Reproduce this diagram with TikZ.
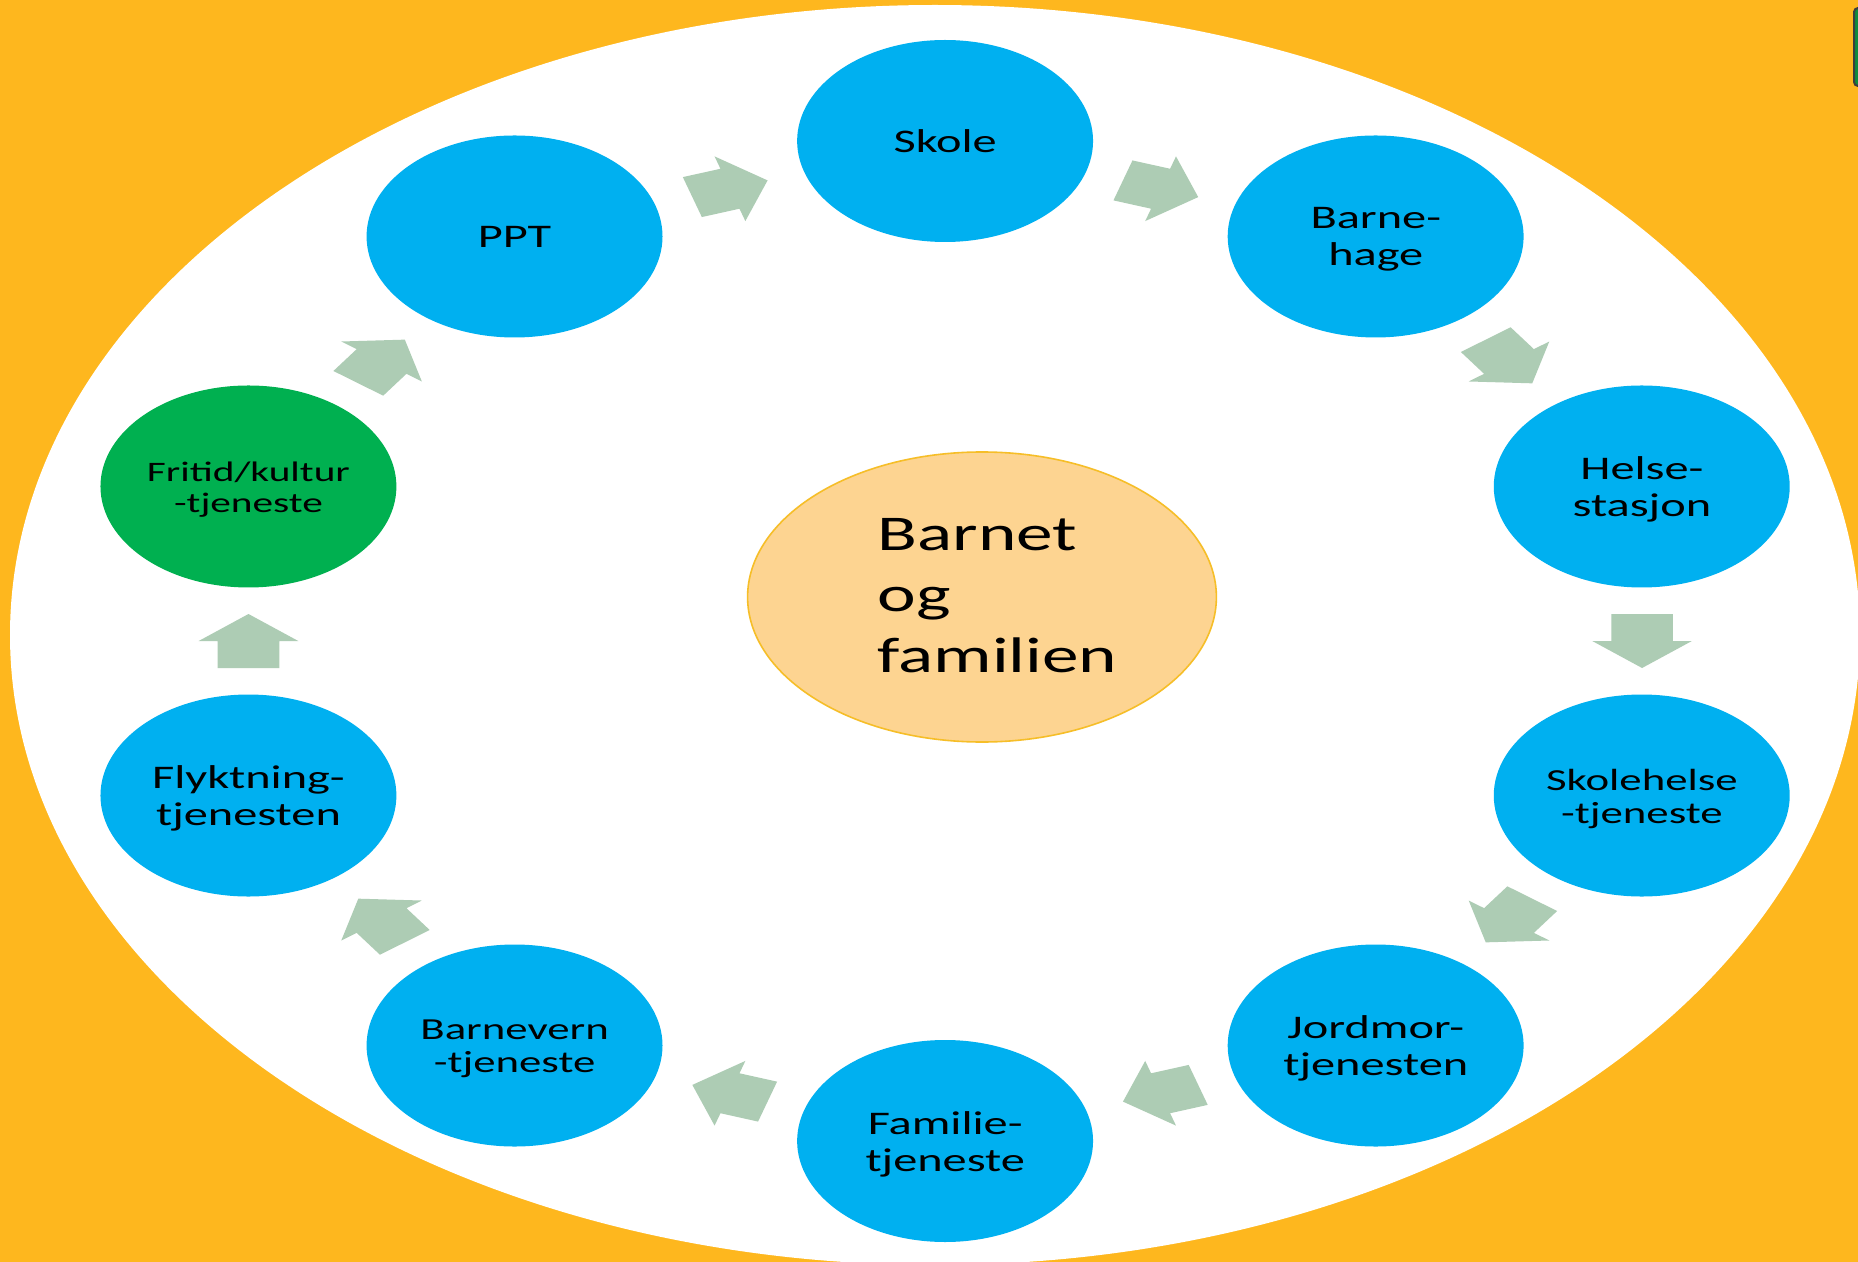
\documentclass[tikz,border=0pt]{standalone}
\usepackage{fontspec}
\setmainfont{Carlito}
\usetikzlibrary{calc,shapes.geometric}
\definecolor{bgorange}{RGB}{254,183,30}
\definecolor{bubbleblue}{RGB}{0,176,240}
\definecolor{bubblegreen}{RGB}{0,176,80}
\definecolor{arrowgreen}{RGB}{173,204,180}
\definecolor{corefill}{RGB}{253,212,145}
\definecolor{coreline}{RGB}{246,190,40}
\definecolor{tabgreen}{RGB}{16,140,60}
\definecolor{tabline}{RGB}{60,60,60}
\tikzset{
  bubble/.style={circle, fill=bubbleblue, draw=none, minimum size=101pt, inner sep=0pt},
  greenbubble/.style={bubble, fill=bubblegreen},
  btext/.style={align=center, text=black, inner sep=0pt, font=\fontsize{16.5pt}{18.5pt}\selectfont},
  twoline/.style={yshift=-1.5pt},
  midtext/.style={font=\fontsize{15.3pt}{16.5pt}\selectfont},
  smalltext/.style={font=\fontsize{14.1pt}{15.5pt}\selectfont},
  core/.style={ellipse, fill=corefill, draw=coreline, line width=0.8pt,
    minimum width=160pt, minimum height=145pt, inner sep=0pt},
  coretext/.style={align=left, text=black, inner sep=0pt,
    font=\fontsize{25pt}{30.5pt}\selectfont},
  flowarrow/.style={fill=arrowgreen, draw=none}
}
\newcommand\cyclearrow[4]{%
  \coordinate (#3) at ($(#1)!0.5!(#2)$);
  \fill[flowarrow, shift={(#3)}, rotate=#4]
    (-27,-21) -- (0,-21) -- (0,-34) -- (27,0) -- (0,34) -- (0,21) -- (-27,21) -- cycle;
}
\begin{document}
\begin{tikzpicture}[x=0.5pt,y=0.5pt]
\useasboundingbox (0,0) rectangle (1858,-1262);
\clip (0,0) rectangle (1858,-1262);
\fill[bgorange] (0,0) rectangle (1858,-1262);
\fill[white] (935,-635) ellipse [x radius=925, y radius=630];
\draw[fill=tabgreen, draw=tabline, line width=1pt, rounded corners=2pt] (1854,-8) rectangle (1880,-86);
\begin{scope}[xscale=1.465, transform shape]
  \coordinate (c) at (645.05,-641);
  \node[bubble] (skole) at ($(c)+(90:500)$) {};
  \node[bubble] (barnehage) at ($(c)+(54:500)$) {};
  \node[bubble] (helse) at ($(c)+(18:500)$) {};
  \node[bubble] (skolehelse) at ($(c)+(-18:500)$) {};
  \node[bubble] (jordmor) at ($(c)+(-54:500)$) {};
  \node[bubble] (familie) at ($(c)+(-90:500)$) {};
  \node[bubble] (barnevern) at ($(c)+(-126:500)$) {};
  \node[bubble] (flyktning) at ($(c)+(-162:500)$) {};
  \node[greenbubble] (fritid) at ($(c)+(162:500)$) {};
  \node[bubble] (ppt) at ($(c)+(126:500)$) {};

  \node[btext] (skole-t) at (skole) {Skole};
  \node[btext, twoline] (barnehage-t) at (barnehage) {Barne-\\hage};
  \node[btext, twoline] (helse-t) at (helse) {Helse-\\stasjon};
  \node[btext, midtext, twoline] (skolehelse-t) at (skolehelse) {Skolehelse\\-tjeneste};
  \node[btext, twoline] (jordmor-t) at (jordmor) {Jordmor-\\tjenesten};
  \node[btext, twoline] (familie-t) at (familie) {Familie-\\tjeneste};
  \node[btext, midtext, twoline] (barnevern-t) at (barnevern) {Barnevern\\-tjeneste};
  \node[btext, twoline] (flyktning-t) at (flyktning) {Flyktning-\\tjenesten};
  \node[btext, smalltext, twoline] (fritid-t) at (fritid) {Fritid/kultur\\-tjeneste};
  \node[btext] (ppt-t) at (ppt) {PPT};

  \node[core] (core) at (670.3,-597) {};
  \node[coretext, anchor=west] (coretxt) at (598.6,-596) {Barnet\\og\\familien};

  \cyclearrow{ppt}{skole}{a1}{18}
  \cyclearrow{skole}{barnehage}{a2}{-18}
  \cyclearrow{barnehage}{helse}{a3}{-54}
  \cyclearrow{helse}{skolehelse}{a4}{-90}
  \cyclearrow{skolehelse}{jordmor}{a5}{-126}
  \cyclearrow{jordmor}{familie}{a6}{-162}
  \cyclearrow{familie}{barnevern}{a7}{162}
  \cyclearrow{barnevern}{flyktning}{a8}{126}
  \cyclearrow{flyktning}{fritid}{a9}{90}
  \cyclearrow{fritid}{ppt}{a10}{54}
\end{scope}
\end{tikzpicture}
\end{document}
